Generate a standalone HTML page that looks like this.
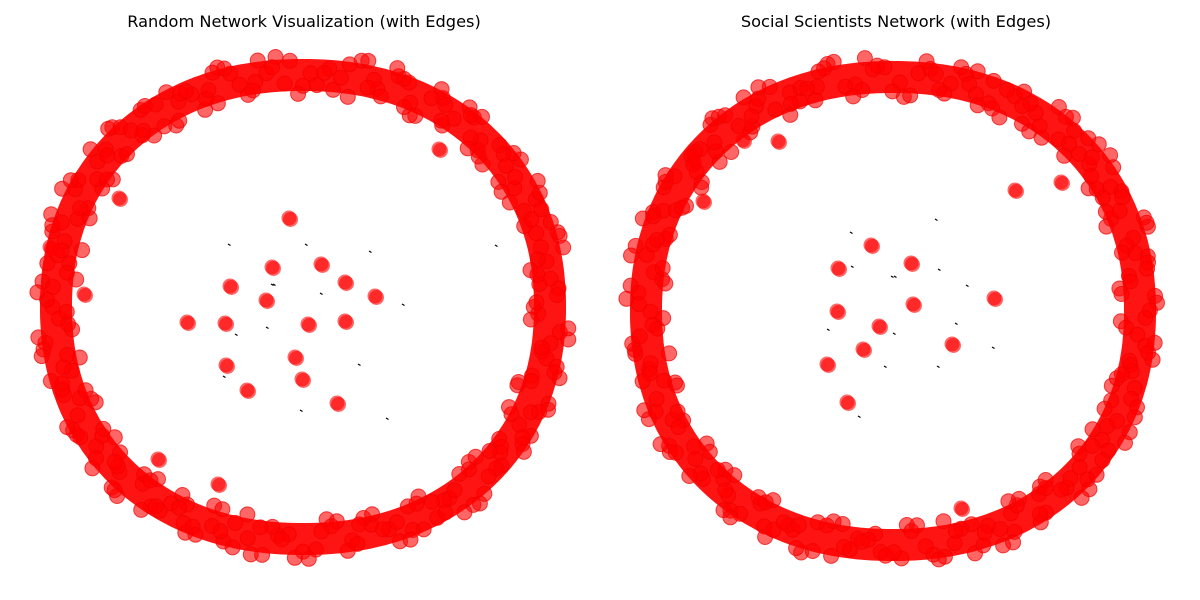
<!DOCTYPE html>
<html><head><meta charset="utf-8"><style>
body{margin:0;background:#fff;width:1200px;height:600px;overflow:hidden}
svg{display:block}
text{font-family:"DejaVu Sans","Liberation Sans",sans-serif;font-size:16.2px;fill:#000}
</style></head><body>
<svg id="chart" width="1200" height="600" viewBox="0 0 1200 600">
<text x="304" y="27" text-anchor="middle">Random Network Visualization (with Edges)</text>
<text x="896" y="27" text-anchor="middle">Social Scientists Network (with Edges)</text>
<g id="left"></g>
<g id="right"></g>
</svg>
<script>
// radial offsets of ring nodes (px from band centre), read approximately
const ringOffsetsA=[-18,12,-5,20,-22,3,15,-12,8,-20,22,-2,10,-15,18,-8,5,-21,14,-3,21,-10,0,17,-19,9,-6,19,-14,2,13,-22,7,-9,20,-17,4,16,-11,-1,22,-13,11,-20,6,18,-7,-16,15,1,-18,10,-4,21,-12,8,-21,3,14,-9,19,-15,12,-2,-19,17,-6,9,-14,20,0,-11];
const ringOffsetsB=[6,-14,19,-3,-20,11,2,-17,16,-8,21,-12,4,13,-22,8,-5,18,-15,1,20,-10,14,-19,7,-1,17,-13,10,-21,3,15,-7,22,-16,5,-11,12,-18,9,0,-20,16,-4,19,-9,2,-15,21,-6,13,-22,11,-2,18,-12,6,-17,20,-8,15,-3,-19,10,-13,22,1,-10,17,-21,8,-5];
// inner / outlier node positions (px relative to panel centre)
const leftInnerX=[-14,-31,18,-73,-37,42,72,-116,-78,5,42,-8,-77,-1,-56,34,-85,136,-184,-219,-145,-253];
const leftInnerY=[-89,-40,-43,-21,-7,-25,-11,15,16,17,14,50,58,72,83,96,177,-158,-109,-13,152,-60];
const rightInnerX=[-22,-55,18,101,20,-56,-14,-30,59,-66,-46,122,168,-115,-150,-190,68,-200];
const rightInnerY=[-66,-43,-48,-13,-7,0,15,38,33,53,91,-121,-129,-170,-171,-110,197,-150];
// short edge segments (relative x,y)
const leftEdgesX=[-75,2,66,-32,17,99,-37,-68,-80,55,-3,83,192,-30];
const leftEdgesY=[-63,-63,-56,-23,-14,-3,20,27,69,57,103,111,-62,-23];
const rightEdgesX=[-43,42,73,-42,1,62,-66,-9,0,44,99,-35,-2,45];
const rightEdgesY=[-79,-92,-26,-45,-35,12,18,55,22,55,36,105,-35,-42];

const NS='http://www.w3.org/2000/svg';
const EXP=2.15;
function se(t){return Math.sign(t)*Math.pow(Math.abs(t),2/EXP);}
function pt(cx,cy,rx,ry,a,o){return [cx+(rx+o)*se(Math.cos(a)), cy+(ry+o)*se(Math.sin(a))];}
function panel(g,cx,cy,rx,ry,offsA,offsB,ix,iy,ex,ey,rot){
  let d='';
  for(let i=0;i<=360;i++){const p=pt(cx,cy,rx,ry,i/360*2*Math.PI,0);d+=(i?'L':'M')+p[0].toFixed(1)+' '+p[1].toFixed(1);}
  const band=document.createElementNS(NS,'path');
  
  
  band.setAttribute('d',d+'Z');
  band.setAttribute('fill','none');band.setAttribute('stroke','rgba(255,0,0,0.92)');band.setAttribute('stroke-width',32);
  g.appendChild(band);
  const sets=[offsA,offsB,offsA,offsB];
  sets.forEach((offs,si)=>{
    const n=offs.length;
    for(let i=0;i<n;i++){
      const a=(i+si*0.25)/n*2*Math.PI+rot+si*0.7;
      const o=offs[i]*0.9;
      const p=pt(cx,cy,rx,ry,a,o);
      const c=document.createElementNS(NS,'circle');
      
      
      c.setAttribute('cx',p[0].toFixed(1));c.setAttribute('cy',p[1].toFixed(1));c.setAttribute('r',7.5);
      c.setAttribute('fill','rgba(255,0,0,0.6)');
      c.setAttribute('stroke','rgba(240,0,0,0.7)');c.setAttribute('stroke-width',1);
      g.appendChild(c);
    }
  });
  for(let i=0;i<ex.length;i++){
    const l=document.createElementNS(NS,'line');
    
    
    l.setAttribute('x1',cx+ex[i]);l.setAttribute('y1',cy+ey[i]);l.setAttribute('x2',cx+ex[i]+2.5);l.setAttribute('y2',cy+ey[i]+1.5);
    l.setAttribute('stroke','#000');l.setAttribute('stroke-width',1.2);
    g.appendChild(l);
  }
  for(let i=0;i<ix.length;i++){
    for(let k=0;k<2;k++){
      const c=document.createElementNS(NS,'circle');
      
      
      c.setAttribute('cx',cx+ix[i]+k*1.5);c.setAttribute('cy',cy+iy[i]+k*1.5);c.setAttribute('r',7.5);
      c.setAttribute('fill','rgba(255,0,0,0.6)');
      g.appendChild(c);
    }
  }
}
panel(document.getElementById('left'),303,307,247,232,ringOffsetsA,ringOffsetsB,leftInnerX,leftInnerY,leftEdgesX,leftEdgesY,0);
panel(document.getElementById('right'),893,311,247,234,ringOffsetsB,ringOffsetsA,rightInnerX,rightInnerY,rightEdgesX,rightEdgesY,0.3);
</script>
</body></html>
